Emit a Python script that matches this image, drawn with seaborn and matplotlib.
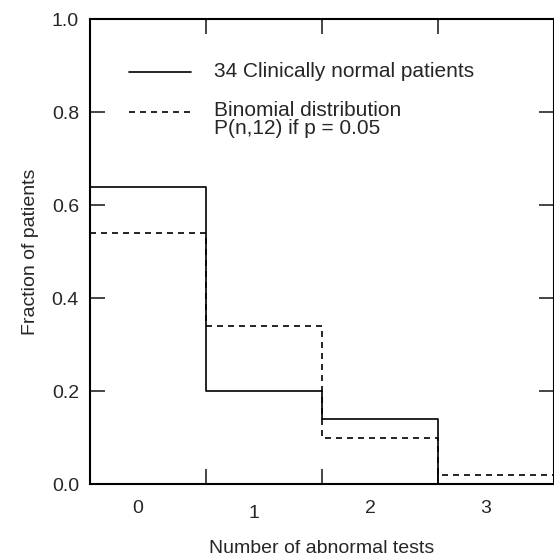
import numpy as np
import matplotlib
matplotlib.use("Agg")
import matplotlib.pyplot as plt
import matplotlib.transforms as mtransforms
import seaborn as sns

# Data
n_tests = [0, 1, 2, 3]
observed = [0.64, 0.20, 0.14, 0.0]      # 34 clinically normal patients
binomial = [0.54, 0.34, 0.10, 0.02]     # P(n,12), p = 0.05
y_ticks = [0.0, 0.2, 0.4, 0.6, 0.8, 1.0]

sns.set_style("ticks")
plt.rcParams["font.family"] = ["Liberation Sans", "DejaVu Sans"]
FS = 14

# step edges built from the categories
edges = np.append(np.array(n_tests) - 0.5, n_tests[-1] + 0.5)
obs_y = np.append(observed, observed[-1])
bin_y = np.append(binomial, binomial[-1])

fig = plt.figure(figsize=(5.54, 5.58), dpi=100)
ax = fig.add_axes([0.1625, 0.132, 0.8375, 0.8335])

sns.lineplot(x=edges, y=obs_y, drawstyle="steps-post", color="black",
             linewidth=1.2, estimator=None, ax=ax)
sns.lineplot(x=edges, y=bin_y, drawstyle="steps-post", color="black",
             linewidth=1.2, linestyle=(0, (3.6, 3.0)), estimator=None, ax=ax)

ax.set_xlim(edges[0], edges[-1])
ax.set_ylim(0, 1.0)

# frame
for s in ax.spines.values():
    s.set_visible(True)
    s.set_linewidth(1.5)
    s.set_color("black")

# ticks: marks at bin edges, labels at bin centres
ax.set_xticks(edges[1:-1])
ax.set_xticklabels([])
ax.set_xticks(n_tests, minor=True)
ax.set_xticklabels([str(n) for n in n_tests], minor=True)
ax.tick_params(axis="x", which="major", direction="in", length=11, width=1.2,
               top=True, bottom=True)
ax.tick_params(axis="x", which="minor", length=0, pad=11, labelsize=FS)

ax.set_yticks(y_ticks)
ax.set_yticklabels([f"{v:.1f}" for v in y_ticks])
ax.tick_params(axis="y", direction="in", length=11, width=1.2,
               left=True, right=True, pad=8, labelsize=FS)

for i, lab in enumerate(ax.get_xticklabels(minor=True)):
    dy = -0.05 if i == 1 else 0
    lab.set_transform(lab.get_transform() +
                      mtransforms.ScaledTranslation(-0.1, dy, fig.dpi_scale_trans))

ax.set_xlabel("Number of abnormal tests", fontsize=FS, labelpad=13)
ax.set_ylabel("Fraction of patients", fontsize=FS, labelpad=9)

# in-plot key
ax.plot([0.084, 0.218], [0.887, 0.887], transform=ax.transAxes,
        color="black", linewidth=1.2)
ax.plot([0.084, 0.218], [0.8, 0.8], transform=ax.transAxes,
        color="black", linewidth=1.2, linestyle=(0, (3.6, 3.0)))
ax.text(0.268, 0.887, "34 Clinically normal patients", transform=ax.transAxes,
        fontsize=15, va="center", ha="left")
ax.text(0.268, 0.824, "Binomial distribution\nP(n,12) if p = 0.05",
        transform=ax.transAxes, fontsize=15, va="top", ha="left",
        linespacing=0.95)

fig.savefig("out.png", dpi=100)
